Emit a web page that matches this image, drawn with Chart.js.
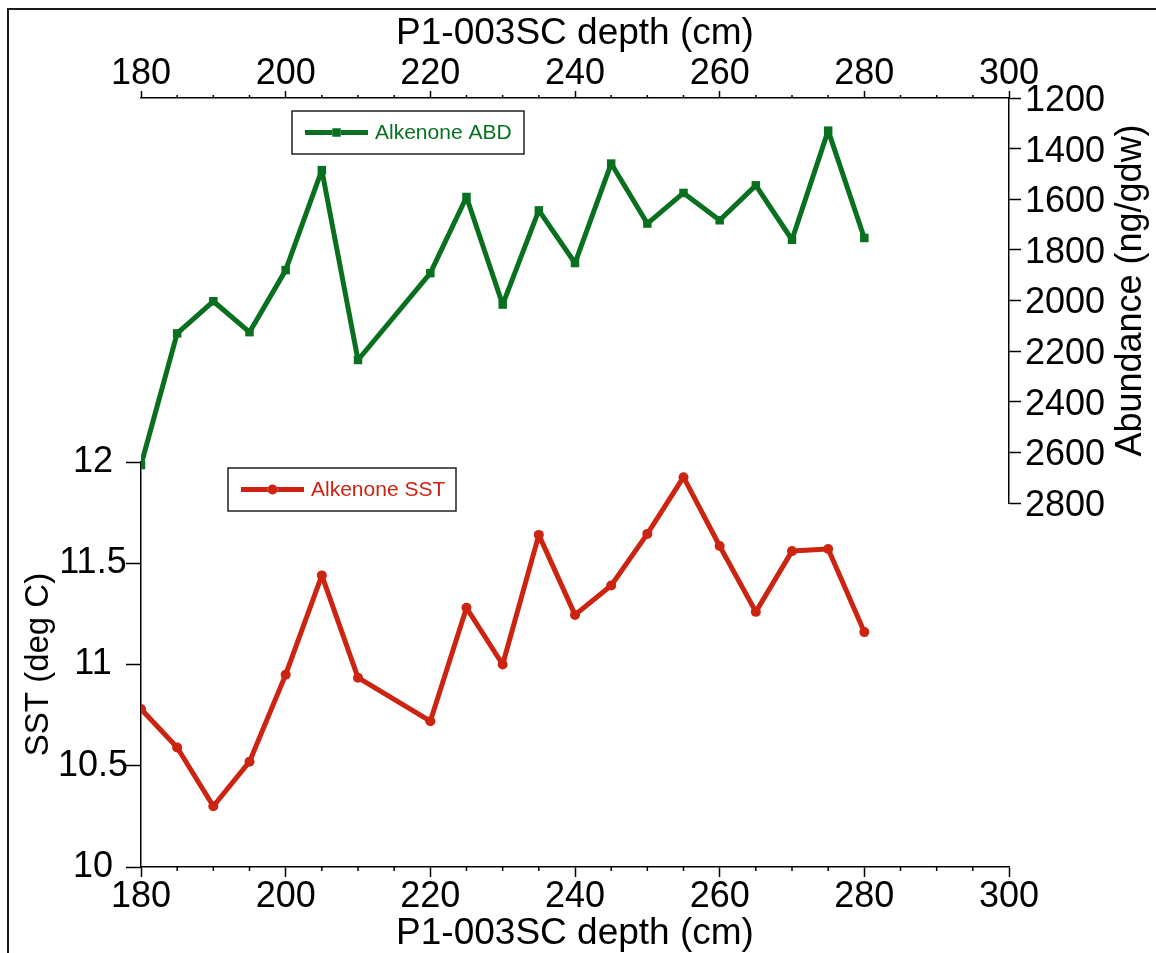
<!DOCTYPE html>
<html>
<head>
<meta charset="utf-8">
<script src="https://cdn.jsdelivr.net/npm/chart.js@4"></script>
<style>
  body { margin: 0; background: #fff; }
  #wrap { position: relative; width: 1156px; height: 953px; overflow: hidden; }
  #frame { position: absolute; left: 7px; top: 8px; width: 1300px; height: 1100px;
           border-left: 2px solid #1a1a1a; border-top: 2px solid #1a1a1a; pointer-events: none; }
</style>
</head>
<body>
<div id="wrap">
  <canvas id="graph" width="1156" height="953"></canvas>
  <div id="frame"></div>
</div>
<script>
// depth of each sample (cm), 215 is missing in the record
const depths = [180, 185, 190, 195, 200, 205, 210, 220, 225, 230, 235, 240, 245, 250, 255, 260, 265, 270, 275, 280]
const abundance = [2650, 2130, 2003, 2125, 1880, 1485, 2235, 1892, 1591, 2016, 1644, 1852, 1459, 1696, 1575, 1683, 1545, 1760, 1329, 1753]
const sst = [10.78, 10.59, 10.30, 10.52, 10.95, 11.44, 10.935, 10.72, 11.28, 11.00, 11.64, 11.245, 11.39, 11.645, 11.925, 11.585, 11.26, 11.56, 11.57, 11.16]

const depthTicks = [180, 200, 220, 240, 260, 280, 300]
const sstTicks = [10, 10.5, 11, 11.5, 12]
const abdTicks = [1200, 1400, 1600, 1800, 2000, 2200, 2400, 2600, 2800]

const FONT = "'Liberation Sans', Arial, sans-serif"
const GREEN = '#08701f'
const RED = '#cc2410'
const axisFont = { family: FONT, size: 36 }
const titleFont = { family: FONT, size: 37 }

const setTicks = arr => s => { s.ticks = arr.map(v => ({ value: v })) }

// minor ticks on both depth axes, every 5 cm
const minorTicks = {
    id: 'minorTicks',
    afterDraw(chart) {
        const ctx = chart.ctx
        ctx.save()
        ctx.strokeStyle = '#000'
        ctx.lineWidth = 1.5
        for (const id of ['x', 'x2']) {
            const s = chart.scales[id]
            for (let v = s.min; v <= s.max; v += 5) {
                if (v % 20 === 0) continue
                const px = s.getPixelForValue(v)
                ctx.beginPath()
                if (id === 'x') { ctx.moveTo(px, s.top); ctx.lineTo(px, s.top + 4) }
                else { ctx.moveTo(px, s.bottom); ctx.lineTo(px, s.bottom - 3) }
                ctx.stroke()
            }
        }
        ctx.restore()
    }
}

// right axis title reads bottom to top
const rightTitle = {
    id: 'rightTitle',
    afterDraw(chart) {
        const s = chart.scales.yABD, ctx = chart.ctx
        ctx.save()
        ctx.translate(s.right - 25, (s.top + s.bottom) / 2 - 10)
        ctx.rotate(-Math.PI / 2)
        ctx.font = '36px ' + FONT
        ctx.fillStyle = '#000'
        ctx.textAlign = 'center'
        ctx.textBaseline = 'middle'
        ctx.fillText('Abundance (ng/gdw)', 0, 0)
        ctx.restore()
    }
}

// two boxed legends, one per series
const boxLegends = {
    id: 'boxLegends',
    afterDraw(chart, args, opts) {
        const ctx = chart.ctx
        for (const b of opts.boxes) {
            const ds = chart.data.datasets[b.dataset]
            const cy = b.top + b.height / 2
            ctx.save()
            ctx.fillStyle = '#fff'
            ctx.fillRect(b.left, b.top, b.width, b.height)
            ctx.strokeStyle = '#222'
            ctx.lineWidth = 1.5
            ctx.strokeRect(b.left, b.top, b.width, b.height)
            ctx.strokeStyle = ds.borderColor
            ctx.lineWidth = 5
            ctx.beginPath()
            ctx.moveTo(b.left + 13, cy)
            ctx.lineTo(b.left + 76, cy)
            ctx.stroke()
            Chart.helpers.drawPoint(ctx, { pointStyle: ds.pointStyle, radius: ds.pointRadius, borderWidth: 0 }, b.left + 44.5, cy)
            ctx.fillStyle = ds.borderColor
            ctx.fill()
            ctx.font = '21px ' + FONT
            ctx.textBaseline = 'middle'
            ctx.fillText(ds.label, b.left + 83, cy + 1)
            ctx.restore()
        }
    }
}

const xAxis = (pos, tickLen, pad, titlePad, h) => ({
    type: 'linear',
    position: pos,
    min: 180,
    max: 300,
    afterBuildTicks: setTicks(depthTicks),
    afterFit: s => { s.height = h },
    grid: { drawOnChartArea: false, tickLength: tickLen, tickColor: '#000', tickWidth: 1.5 },
    border: { color: '#000', width: 1.5 },
    ticks: { font: axisFont, color: '#000', padding: pad, maxRotation: 0, autoSkip: false, callback: v => String(v) },
    title: { display: true, text: 'P1-003SC depth (cm)', font: titleFont, color: '#000', padding: titlePad }
})

const padAxis = (pos, stack, w) => ({
    type: 'linear',
    position: pos,
    stack: stack,
    stackWeight: 364,
    weight: 1,
    min: 0,
    max: 1,
    afterFit: s => { s.width = w },
    ticks: { display: false },
    grid: { display: false },
    border: { display: false }
})

new Chart(document.getElementById('graph').getContext('2d'), {
    type: 'line',
    data: {
        datasets: [
            {
                label: 'Alkenone ABD',
                data: depths.map((d, i) => ({ x: d, y: abundance[i] })),
                xAxisID: 'x',
                yAxisID: 'yABD',
                borderColor: GREEN,
                backgroundColor: GREEN,
                borderWidth: 5,
                borderJoinStyle: 'bevel',
                pointStyle: 'rect',
                pointRadius: 6,
                pointBorderWidth: 0,
                tension: 0
            },
            {
                label: 'Alkenone SST',
                data: depths.map((d, i) => ({ x: d, y: sst[i] })),
                xAxisID: 'x',
                yAxisID: 'ySST',
                borderColor: RED,
                backgroundColor: RED,
                borderWidth: 5,
                borderJoinStyle: 'round',
                pointStyle: 'circle',
                pointRadius: 5,
                pointBorderWidth: 0,
                tension: 0
            }
        ]
    },
    options: {
        responsive: false,
        animation: false,
        layout: { padding: 0 },
        plugins: {
            legend: { display: false },
            tooltip: { enabled: false },
            boxLegends: {
                boxes: [
                    { dataset: 0, left: 292, top: 111, width: 232, height: 43 },
                    { dataset: 1, left: 228, top: 468, width: 228, height: 43 }
                ]
            }
        },
        scales: {
            x: xAxis('bottom', 10, -2, { top: 0, bottom: -3 }, 86),
            x2: xAxis('top', 7, -5, { top: 12, bottom: 0 }, 98),
            ySST: {
                type: 'linear',
                position: 'left',
                stack: 'left',
                stackWeight: 405,
                weight: 0,
                min: 10,
                max: 12,
                afterBuildTicks: setTicks(sstTicks),
                afterFit: s => { s.width = 141 },
                grid: { drawOnChartArea: false, tickLength: 15, tickColor: '#000', tickWidth: 1.5 },
                border: { color: '#000', width: 1.5 },
                ticks: { font: axisFont, color: '#000', padding: -2, crossAlign: 'center', autoSkip: false, callback: v => String(v) },
                title: { display: true, text: 'SST (deg C)', font: { family: FONT, size: 33 }, color: '#000', padding: { top: 19, bottom: 0 } }
            },
            yPadL: padAxis('left', 'left', 141),
            yABD: {
                type: 'linear',
                position: 'right',
                stack: 'right',
                stackWeight: 405,
                weight: 0,
                reverse: true,
                min: 1200,
                max: 2800,
                afterBuildTicks: setTicks(abdTicks),
                afterFit: s => { s.width = 147 },
                grid: { drawOnChartArea: false, tickLength: 12, tickColor: '#000', tickWidth: 1.5 },
                border: { color: '#000', width: 1.5 },
                ticks: { font: axisFont, color: '#000', padding: 4, labelOffset: 3, autoSkip: false, callback: v => String(v) }
            },
            yPadR: padAxis('right', 'right', 147)
        }
    },
    plugins: [minorTicks, rightTitle, boxLegends]
})
</script>
</body>
</html>
